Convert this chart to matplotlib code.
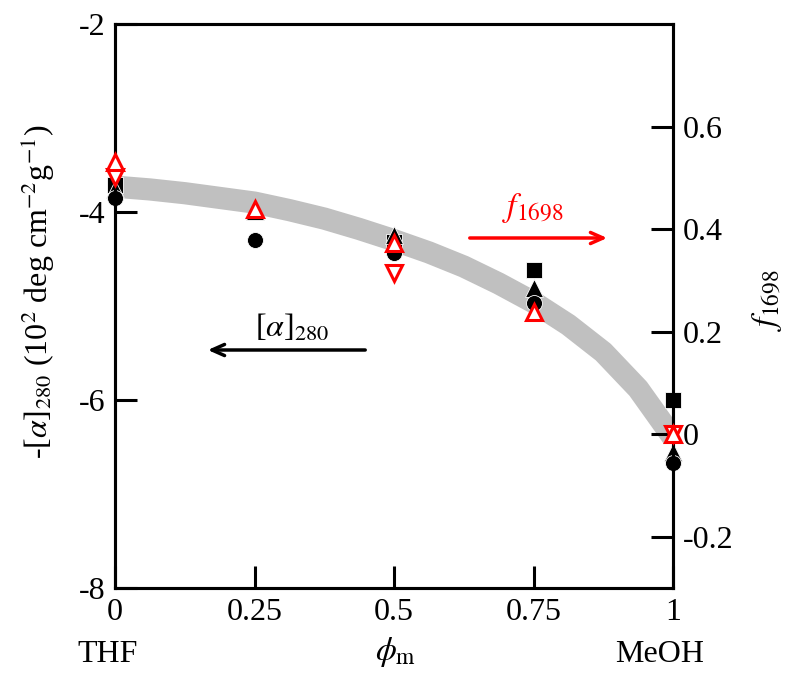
import matplotlib
matplotlib.use("Agg")
import matplotlib.pyplot as plt
import numpy as np

plt.rcParams["font.family"] = ["Liberation Serif", "DejaVu Serif"]
plt.rcParams["mathtext.fontset"] = "stix"
plt.rcParams["axes.unicode_minus"] = False

# gray guide curve (left axis units)
curve_x = [0, 0.0625, 0.125, 0.1875, 0.25, 0.3125, 0.375, 0.4375, 0.5,
           0.5625, 0.625, 0.6875, 0.75, 0.8125, 0.875, 0.9375, 1.0]
curve_y = [-3.73, -3.76, -3.80, -3.85, -3.90, -3.98, -4.07, -4.18, -4.30,
           -4.43, -4.58, -4.76, -4.96, -5.20, -5.49, -5.88, -6.40]

# -[alpha]280, left axis (black filled)
circle_x = [0, 0.25, 0.5, 0.75, 1.0]
circle_y = [-3.85, -4.30, -4.44, -4.97, -6.67]
tri_x = [0, 0.25, 0.5, 0.75, 1.0]
tri_y = [-3.75, -3.99, -4.24, -4.81, -6.55]
square_x = [0, 0.5, 0.75, 1.0]
square_y = [-3.71, -4.32, -4.62, -6.00]

# f1698, right axis (red open)
f_up_x = [0, 0.25, 0.5, 0.75, 1.0]
f_up_y = [0.53, 0.44, 0.373, 0.238, 0.0]
f_down_x = [0, 0.5, 1.0]
f_down_y = [0.502, 0.314, 0.0]

x_ticks = [0, 0.25, 0.5, 0.75, 1]
x_ticklabels = ["0", "0.25", "0.5", "0.75", "1"]
left_ticks = [-8, -6, -4, -2]
right_ticks = [-0.2, 0, 0.2, 0.4, 0.6]
right_ticklabels = ["-0.2", "0", "0.2", "0.4", "0.6"]

fig = plt.figure(figsize=(7.9, 6.73), dpi=100)
ax = fig.add_axes([115 / 790, 1 - 588 / 673, 558 / 790, 564 / 673])
ax2 = ax.twinx()

ax.plot(curve_x, curve_y, color="#c0c0c0", lw=16, solid_capstyle="butt",
        solid_joinstyle="round", zorder=1)

ms = 11.5
ax.plot(square_x, square_y, "s", color="black", ms=ms, mec="white", mew=0.6, clip_on=False, zorder=3)
ax.plot(tri_x, tri_y, "^", color="black", ms=ms + 1, mec="white", mew=0.6, clip_on=False, zorder=3)
ax.plot(circle_x, circle_y, "o", color="black", ms=ms, mec="white", mew=0.6, clip_on=False, zorder=3)

ax2.plot(f_down_x, f_down_y, "v", mfc="white", mec="red", mew=2.2, ms=ms, clip_on=False, zorder=4)
ax2.plot(f_up_x, f_up_y, "^", mfc="white", mec="red", mew=2.2, ms=ms, clip_on=False, zorder=4)

ax.set_xlim(0, 1)
ax.set_ylim(-8, -2)
ax2.set_ylim(-0.3, 0.8)

ax.set_xticks(x_ticks)
ax.set_xticklabels(x_ticklabels)
ax.set_yticks(left_ticks)
ax.set_yticklabels([str(v) for v in left_ticks])
ax2.set_yticks(right_ticks)
ax2.set_yticklabels(right_ticklabels)

for a in (ax, ax2):
    for s in a.spines.values():
        s.set_linewidth(2.2)
    a.tick_params(direction="in", length=16, width=2.2, labelsize=23, pad=7)
ax.tick_params(axis="y", right=False)
ax.tick_params(axis="x", top=False)
ax2.tick_params(axis="y", left=False)

ax.annotate("", xy=(205, 673 - 350), xytext=(368, 673 - 350), xycoords="figure pixels",
            arrowprops=dict(arrowstyle="->,head_length=0.9,head_width=0.4", lw=2.5, color="black"))
fig.text(292 / 790, 1 - 328 / 673, r"[$\alpha$]$_{280}$", fontsize=23, ha="center", va="center")

ax.annotate("", xy=(610, 673 - 238), xytext=(467, 673 - 238), xycoords="figure pixels",
            arrowprops=dict(arrowstyle="->,head_length=0.9,head_width=0.4", lw=2.5, color="red"))
fig.text(533 / 790, 1 - 208 / 673, r"$f_{1698}$", fontsize=24, color="red", ha="center", va="center")

fig.text(38 / 790, 1 - 292 / 673, r"-[$\alpha$]$_{280}$ (10$^{2}$ deg cm$^{-2}$g$^{-1}$)",
         fontsize=23, rotation=90, ha="center", va="center")
fig.text(767 / 790, 1 - 300 / 673, r"$f_{1698}$", fontsize=24, rotation=90, ha="center", va="center")

fig.text(108 / 790, 1 - 655 / 673, "THF", fontsize=23, ha="center", va="center")
fig.text(396 / 790, 1 - 652 / 673, r"$\phi_{\mathrm{m}}$", fontsize=24, ha="center", va="center")
fig.text(660 / 790, 1 - 655 / 673, "MeOH", fontsize=23, ha="center", va="center")

fig.savefig("out.png", dpi=100)
